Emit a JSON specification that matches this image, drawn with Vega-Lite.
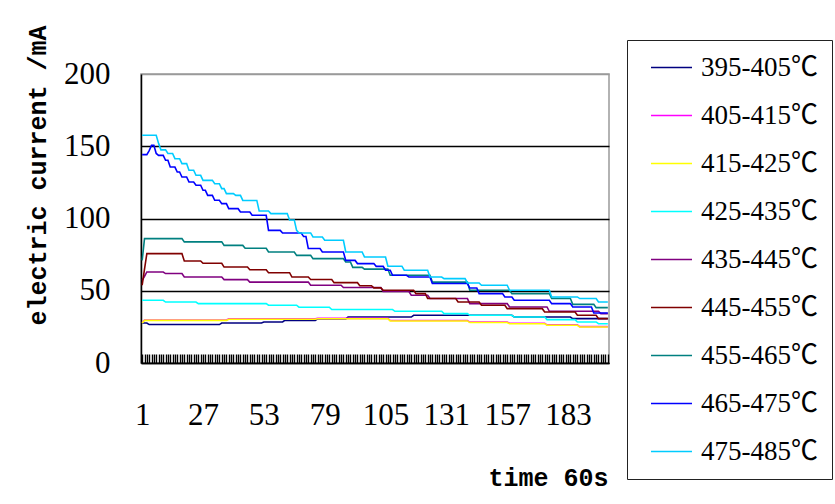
{
"$schema":"https://vega.github.io/schema/vega-lite/v6.json",
"autosize":"none",
"width":468,"height":289,
"padding":{"left":141,"top":74,"right":226,"bottom":141},
"background":"white",
"config":{"view":{"stroke":"#9a9a9a","strokeWidth":1.5}},
"datasets":{
"names":[{"k":"a","name":"395-405℃"},{"k":"b","name":"405-415℃"},{"k":"c","name":"415-425℃"},{"k":"d","name":"425-435℃"},{"k":"e","name":"435-445℃"},{"k":"f","name":"445-455℃"},{"k":"g","name":"455-465℃"},{"k":"h","name":"465-475℃"},{"k":"i","name":"475-485℃"}],
"wide":[
{"t":1,"a":27.7,"b":28,"c":27.7,"d":43.4,"e":57.2,"f":53.8,"g":71,"h":144.2,"i":157.6},
{"t":2,"a":27.7,"b":29.8,"c":29.5,"d":43.4,"e":60,"f":65,"g":86.1,"h":144.2,"i":157.6},
{"t":3,"a":27.7,"b":29.8,"c":29.5,"d":43.4,"e":63,"f":75.7,"g":86.1,"h":144.2,"i":157.6},
{"t":4,"a":26.6,"b":29.8,"c":29.5,"d":43.4,"e":63,"f":75.7,"g":86.1,"h":147,"i":157.6},
{"t":5,"a":26.6,"b":29.8,"c":29.5,"d":43.4,"e":63,"f":75.7,"g":86.1,"h":150.6,"i":157.6},
{"t":6,"a":26.6,"b":29.8,"c":29.5,"d":43.4,"e":63,"f":75.7,"g":86.1,"h":150.6,"i":157.6},
{"t":7,"a":26.6,"b":29.8,"c":29.5,"d":43.4,"e":63,"f":75.7,"g":86.1,"h":145,"i":157.6},
{"t":8,"a":26.6,"b":29.8,"c":29.5,"d":43.4,"e":63,"f":75.7,"g":86.1,"h":143.7,"i":152},
{"t":9,"a":26.6,"b":29.8,"c":29.5,"d":43.4,"e":63,"f":75.7,"g":86.1,"h":143.7,"i":147.5},
{"t":10,"a":26.6,"b":29.8,"c":29.5,"d":43.4,"e":63,"f":75.7,"g":86.1,"h":143.7,"i":147.5},
{"t":11,"a":26.6,"b":29.8,"c":29.5,"d":42.2,"e":61.9,"f":75.7,"g":86.1,"h":140.3,"i":147.5},
{"t":12,"a":26.6,"b":29.8,"c":29.5,"d":42.2,"e":61.9,"f":75.7,"g":86.1,"h":140.3,"i":145},
{"t":13,"a":26.6,"b":29.8,"c":29.5,"d":42.2,"e":61.9,"f":75.7,"g":86.1,"h":135.6,"i":145},
{"t":14,"a":26.6,"b":29.8,"c":29.5,"d":42.2,"e":61.9,"f":75.7,"g":86.1,"h":135.6,"i":145},
{"t":15,"a":26.6,"b":29.8,"c":29.5,"d":42.2,"e":61.9,"f":75.7,"g":86.1,"h":135.6,"i":141.4},
{"t":16,"a":26.6,"b":29.8,"c":29.5,"d":42.2,"e":61.9,"f":75.7,"g":86.1,"h":132.2,"i":141.4},
{"t":17,"a":26.6,"b":29.8,"c":29.5,"d":42.2,"e":61.9,"f":75.7,"g":86.1,"h":132.2,"i":141.4},
{"t":18,"a":26.6,"b":29.8,"c":29.5,"d":42.2,"e":61.9,"f":75.7,"g":86.1,"h":128.7,"i":138},
{"t":19,"a":26.6,"b":29.8,"c":29.5,"d":42.2,"e":59.5,"f":70.6,"g":83.8,"h":128.7,"i":138},
{"t":20,"a":26.6,"b":29.8,"c":29.5,"d":42.2,"e":59.5,"f":70.6,"g":83.8,"h":128.7,"i":138},
{"t":21,"a":26.6,"b":29.8,"c":29.5,"d":42.2,"e":59.5,"f":70.6,"g":83.8,"h":125.3,"i":133.4},
{"t":22,"a":26.6,"b":29.8,"c":29.5,"d":42.2,"e":59.5,"f":70.6,"g":83.8,"h":125.3,"i":133.4},
{"t":23,"a":26.6,"b":29.8,"c":29.5,"d":42.2,"e":59.5,"f":70.6,"g":83.8,"h":125.3,"i":133.4},
{"t":24,"a":26.6,"b":29.8,"c":29.5,"d":42.2,"e":59.5,"f":70.6,"g":83.8,"h":123,"i":129.9},
{"t":25,"a":26.6,"b":29.8,"c":29.5,"d":41.1,"e":59.5,"f":70.6,"g":83.8,"h":123,"i":129.9},
{"t":26,"a":26.6,"b":29.8,"c":29.5,"d":41.1,"e":59.5,"f":70.6,"g":83.8,"h":123,"i":129.9},
{"t":27,"a":26.6,"b":29.8,"c":29.5,"d":41.1,"e":59.5,"f":69,"g":83.8,"h":119.5,"i":126.4},
{"t":28,"a":26.6,"b":29.8,"c":29.5,"d":41.1,"e":59.5,"f":69,"g":83.8,"h":119.5,"i":126.4},
{"t":29,"a":26.6,"b":29.8,"c":29.5,"d":41.1,"e":59.5,"f":69,"g":83.8,"h":116,"i":126.4},
{"t":30,"a":26.6,"b":29.8,"c":29.5,"d":41.1,"e":59.5,"f":69,"g":83.8,"h":116,"i":126.4},
{"t":31,"a":26.6,"b":29.8,"c":29.5,"d":41.1,"e":59.5,"f":69,"g":83.8,"h":116,"i":126.4},
{"t":32,"a":26.6,"b":29.8,"c":29.5,"d":41.1,"e":59.5,"f":69,"g":83.8,"h":112.6,"i":124.1},
{"t":33,"a":26.6,"b":29.8,"c":29.5,"d":41.1,"e":59.5,"f":69,"g":83.8,"h":112.6,"i":124.1},
{"t":34,"a":26.6,"b":29.8,"c":29.5,"d":41.1,"e":59.5,"f":69,"g":83.8,"h":112.6,"i":124.1},
{"t":35,"a":27.7,"b":29.8,"c":29.5,"d":41.1,"e":59.5,"f":69,"g":83.8,"h":110.3,"i":120.7},
{"t":36,"a":27.7,"b":29.8,"c":29.5,"d":41.1,"e":57.7,"f":66.4,"g":81.4,"h":110.3,"i":120.7},
{"t":37,"a":27.7,"b":29.8,"c":29.5,"d":41.1,"e":57.7,"f":66.4,"g":81.4,"h":110.3,"i":117.2},
{"t":38,"a":27.7,"b":30.6,"c":30.3,"d":41.1,"e":57.7,"f":66.4,"g":81.4,"h":106.8,"i":117.2},
{"t":39,"a":27.7,"b":30.6,"c":30.3,"d":41.1,"e":57.7,"f":66.4,"g":81.4,"h":106.8,"i":117.2},
{"t":40,"a":27.7,"b":30.6,"c":30.3,"d":41.1,"e":57.7,"f":66.4,"g":81.4,"h":106.8,"i":117.2},
{"t":41,"a":27.7,"b":30.6,"c":30.3,"d":41.1,"e":57.7,"f":66.4,"g":81.4,"h":106.8,"i":116},
{"t":42,"a":27.7,"b":30.6,"c":30.3,"d":41.1,"e":57.7,"f":66.4,"g":81.4,"h":106.8,"i":116},
{"t":43,"a":27.7,"b":30.6,"c":30.3,"d":41.1,"e":57.7,"f":66.4,"g":81.4,"h":104.5,"i":116},
{"t":44,"a":27.7,"b":30.6,"c":30.3,"d":41.1,"e":57.7,"f":66.4,"g":81.4,"h":104.5,"i":112.5},
{"t":45,"a":27.7,"b":30.6,"c":30.3,"d":41.1,"e":57.7,"f":66.4,"g":79.4,"h":104.5,"i":112.5},
{"t":46,"a":27.7,"b":30.6,"c":30.3,"d":41.1,"e":57.7,"f":66.4,"g":79.4,"h":104.5,"i":112.5},
{"t":47,"a":27.7,"b":30.6,"c":30.3,"d":41.1,"e":56,"f":64.5,"g":79.4,"h":104.5,"i":112.5},
{"t":48,"a":27.7,"b":30.6,"c":30.3,"d":41.1,"e":56,"f":64.5,"g":79.4,"h":102.2,"i":112.5},
{"t":49,"a":27.7,"b":30.6,"c":30.3,"d":41.1,"e":56,"f":64.5,"g":79.4,"h":102.2,"i":112.5},
{"t":50,"a":27.7,"b":30.6,"c":30.3,"d":41.1,"e":56,"f":64.5,"g":79.4,"h":102.2,"i":112.5},
{"t":51,"a":27.7,"b":30.6,"c":30.3,"d":41.1,"e":56,"f":64.5,"g":79.4,"h":102.2,"i":105.2},
{"t":52,"a":27.7,"b":30.6,"c":30.3,"d":41.1,"e":56,"f":64.5,"g":79.4,"h":102.2,"i":105.2},
{"t":53,"a":28.4,"b":30.6,"c":30.3,"d":41.1,"e":56,"f":64.5,"g":79.4,"h":102.2,"i":105.2},
{"t":54,"a":28.4,"b":30.6,"c":30.3,"d":41.1,"e":56,"f":64.5,"g":79.4,"h":102.2,"i":105.2},
{"t":55,"a":28.4,"b":30.6,"c":30.3,"d":40,"e":56,"f":62.5,"g":76.8,"h":91.8,"i":105.2},
{"t":56,"a":28.4,"b":30.6,"c":30.3,"d":40,"e":56,"f":62.5,"g":76.8,"h":91.8,"i":103.4},
{"t":57,"a":28.4,"b":30.6,"c":30.3,"d":40,"e":56,"f":62.5,"g":76.8,"h":91.8,"i":103.4},
{"t":58,"a":28.4,"b":30.6,"c":30.3,"d":40,"e":56,"f":62.5,"g":76.8,"h":91.8,"i":103.4},
{"t":59,"a":28.4,"b":30.6,"c":30.3,"d":40,"e":56,"f":62.5,"g":76.8,"h":91.8,"i":103.4},
{"t":60,"a":28.4,"b":30.6,"c":30.3,"d":40,"e":56,"f":62.5,"g":76.8,"h":91.8,"i":103.4},
{"t":61,"a":28.4,"b":30.6,"c":30.3,"d":40,"e":56,"f":62.5,"g":76.8,"h":90,"i":103.4},
{"t":62,"a":29.5,"b":30.6,"c":30.3,"d":40,"e":56,"f":62.5,"g":76.8,"h":90,"i":103.4},
{"t":63,"a":29.5,"b":30.6,"c":30.3,"d":40,"e":56,"f":62.5,"g":76.8,"h":90,"i":103.4},
{"t":64,"a":29.5,"b":30.6,"c":30.3,"d":40,"e":56,"f":62.5,"g":76.8,"h":90,"i":99},
{"t":65,"a":29.5,"b":30.6,"c":30.3,"d":40,"e":56,"f":59.5,"g":76.8,"h":90,"i":99},
{"t":66,"a":29.5,"b":30.6,"c":30.3,"d":40,"e":56,"f":59.5,"g":76.8,"h":90,"i":99},
{"t":67,"a":29.5,"b":30.6,"c":30.3,"d":40,"e":56,"f":59.5,"g":74.5,"h":90,"i":91.8},
{"t":68,"a":29.5,"b":30.6,"c":30.3,"d":38.6,"e":56,"f":59.5,"g":74.5,"h":90,"i":90},
{"t":69,"a":29.5,"b":30.6,"c":30.3,"d":38.6,"e":56,"f":59.5,"g":74.5,"h":90,"i":90},
{"t":70,"a":29.5,"b":30.6,"c":30.3,"d":38.6,"e":56,"f":59.5,"g":74.5,"h":87.5,"i":90},
{"t":71,"a":29.5,"b":30.6,"c":30.3,"d":38.6,"e":56,"f":59.5,"g":74.5,"h":87.5,"i":90},
{"t":72,"a":29.5,"b":30.6,"c":30.3,"d":38.6,"e":56,"f":59.5,"g":74.5,"h":79.2,"i":90},
{"t":73,"a":29.5,"b":30.6,"c":30.3,"d":38.6,"e":53.8,"f":57.8,"g":74.5,"h":79.2,"i":90},
{"t":74,"a":29.5,"b":30.6,"c":30.3,"d":38.6,"e":53.8,"f":57.8,"g":72.2,"h":79.2,"i":87.2},
{"t":75,"a":29.5,"b":30.6,"c":30.3,"d":38.6,"e":53.8,"f":57.8,"g":72.2,"h":79.2,"i":87.2},
{"t":76,"a":30.5,"b":30.9,"c":30.6,"d":38.6,"e":53.8,"f":57.8,"g":72.2,"h":79.2,"i":87.2},
{"t":77,"a":30.5,"b":30.9,"c":30.6,"d":38.6,"e":53.8,"f":57.8,"g":72.2,"h":79.2,"i":87.2},
{"t":78,"a":30.5,"b":30.9,"c":30.6,"d":38.6,"e":53.8,"f":57.8,"g":72.2,"h":76.8,"i":87.2},
{"t":79,"a":30.5,"b":30.9,"c":30.6,"d":38.6,"e":53.8,"f":57.8,"g":72.2,"h":76.8,"i":84.9},
{"t":80,"a":30.5,"b":30.9,"c":30.6,"d":38.6,"e":53.8,"f":57.8,"g":72.2,"h":76.8,"i":84.9},
{"t":81,"a":30.5,"b":30.9,"c":30.6,"d":38.6,"e":53.8,"f":57.8,"g":72.2,"h":76.8,"i":84.9},
{"t":82,"a":30.5,"b":30.9,"c":30.6,"d":37,"e":53.8,"f":57.8,"g":72.2,"h":76.8,"i":84.9},
{"t":83,"a":30.5,"b":30.9,"c":30.6,"d":37,"e":53.8,"f":55.6,"g":72.2,"h":76.8,"i":84.9},
{"t":84,"a":30.5,"b":30.9,"c":30.6,"d":37,"e":53.8,"f":55.6,"g":72.2,"h":76.8,"i":84.9},
{"t":85,"a":30.5,"b":30.9,"c":30.6,"d":37,"e":53.8,"f":55.6,"g":72.2,"h":76.8,"i":84.9},
{"t":86,"a":30.5,"b":30.9,"c":30.6,"d":37,"e":53.8,"f":55.6,"g":72.2,"h":76.8,"i":84.9},
{"t":87,"a":30.5,"b":30.9,"c":30.6,"d":37,"e":52.2,"f":55.6,"g":72.2,"h":76.8,"i":84.9},
{"t":88,"a":30.5,"b":30.9,"c":30.6,"d":37,"e":52.2,"f":55.6,"g":69.9,"h":71,"i":76.8},
{"t":89,"a":31.8,"b":30.9,"c":30.6,"d":37,"e":52.2,"f":55.6,"g":69.9,"h":71,"i":76.8},
{"t":90,"a":31.8,"b":30.9,"c":30.6,"d":37,"e":52.2,"f":55.6,"g":69.9,"h":71,"i":76.8},
{"t":91,"a":31.8,"b":30.9,"c":30.6,"d":37,"e":52.2,"f":55.6,"g":66.2,"h":71,"i":76.8},
{"t":92,"a":31.8,"b":30.9,"c":30.6,"d":37,"e":52.2,"f":55.6,"g":66.2,"h":71,"i":76.8},
{"t":93,"a":31.8,"b":30.9,"c":30.6,"d":37,"e":52.2,"f":55.6,"g":66.2,"h":68.8,"i":76.8},
{"t":94,"a":31.8,"b":30.9,"c":30.6,"d":37,"e":52.2,"f":53.5,"g":66.2,"h":68.8,"i":76.8},
{"t":95,"a":31.8,"b":30.9,"c":30.6,"d":37,"e":52.2,"f":53.5,"g":66.2,"h":68.8,"i":76.8},
{"t":96,"a":31.8,"b":30.9,"c":30.6,"d":37,"e":52.2,"f":53.5,"g":65,"h":68.8,"i":73.4},
{"t":97,"a":31.8,"b":30.9,"c":30.6,"d":37,"e":52.2,"f":53.5,"g":65,"h":68.8,"i":73.4},
{"t":98,"a":31.8,"b":30.9,"c":30.6,"d":37,"e":52.2,"f":53.5,"g":65,"h":68.8,"i":73.4},
{"t":99,"a":31.8,"b":30.9,"c":30.6,"d":37,"e":52.2,"f":53.5,"g":65,"h":68.8,"i":73.4},
{"t":100,"a":31.8,"b":30.9,"c":30.6,"d":37,"e":52.2,"f":52,"g":65,"h":68.8,"i":73.4},
{"t":101,"a":31.8,"b":30.9,"c":30.6,"d":37,"e":52.2,"f":52,"g":65,"h":66.9,"i":73.4},
{"t":102,"a":31.8,"b":30.9,"c":30.6,"d":37,"e":52.2,"f":52,"g":65,"h":66.9,"i":73.4},
{"t":103,"a":31.8,"b":30.9,"c":30.6,"d":37,"e":52.2,"f":52,"g":65,"h":66.9,"i":73.4},
{"t":104,"a":31.8,"b":30.9,"c":30.6,"d":37,"e":49.5,"f":50.3,"g":65,"h":66.9,"i":73.4},
{"t":105,"a":31.8,"b":30.9,"c":30.6,"d":37,"e":49.5,"f":50.3,"g":65,"h":64.2,"i":73.4},
{"t":106,"a":31.8,"b":30.9,"c":30.6,"d":37,"e":49.5,"f":50.3,"g":65,"h":64.2,"i":67},
{"t":107,"a":31.8,"b":29.4,"c":29.1,"d":37,"e":49.5,"f":50.3,"g":60.7,"h":64.2,"i":67},
{"t":108,"a":31.8,"b":29.4,"c":29.1,"d":37,"e":49.5,"f":50.3,"g":60.7,"h":60.7,"i":67},
{"t":109,"a":31.8,"b":29.4,"c":29.1,"d":35.8,"e":49.5,"f":50.3,"g":60.7,"h":60.7,"i":67},
{"t":110,"a":31.8,"b":29.4,"c":29.1,"d":35.8,"e":49.5,"f":50.3,"g":60.7,"h":60.7,"i":67},
{"t":111,"a":31.8,"b":29.4,"c":29.1,"d":35.8,"e":49.5,"f":50.3,"g":60.7,"h":60.7,"i":67},
{"t":112,"a":31.8,"b":29.4,"c":29.1,"d":35.8,"e":49.5,"f":50.3,"g":60.7,"h":60.7,"i":67},
{"t":113,"a":31.8,"b":29.4,"c":29.1,"d":35.8,"e":49.5,"f":50.3,"g":60.7,"h":60.7,"i":64.2},
{"t":114,"a":31.8,"b":29.4,"c":29.1,"d":35.8,"e":49.5,"f":50.3,"g":60.7,"h":60.7,"i":64.2},
{"t":115,"a":31.8,"b":29.4,"c":29.1,"d":35.8,"e":49.5,"f":50.3,"g":60.7,"h":59.5,"i":64.2},
{"t":116,"a":31.8,"b":29.4,"c":29.1,"d":35.8,"e":46.9,"f":50.3,"g":60.7,"h":59.5,"i":64.2},
{"t":117,"a":33,"b":29.4,"c":29.1,"d":35.8,"e":46.9,"f":50.3,"g":60.7,"h":59.5,"i":64.2},
{"t":118,"a":33,"b":29.4,"c":29.1,"d":35.8,"e":46.9,"f":48,"g":60.7,"h":59.5,"i":64.2},
{"t":119,"a":33,"b":29.4,"c":29.1,"d":35.8,"e":46.9,"f":48,"g":60.7,"h":59.5,"i":64.2},
{"t":120,"a":33,"b":29.4,"c":29.1,"d":35.8,"e":46.9,"f":48,"g":60.7,"h":59.5,"i":64.2},
{"t":121,"a":33,"b":29.4,"c":29.1,"d":35.8,"e":46.9,"f":48,"g":60.7,"h":59.5,"i":64.2},
{"t":122,"a":33,"b":29.4,"c":29.1,"d":35.8,"e":46.9,"f":48,"g":60.7,"h":59.5,"i":64.2},
{"t":123,"a":33,"b":29.4,"c":29.1,"d":35.8,"e":46.9,"f":44.6,"g":60.7,"h":59.5,"i":64.2},
{"t":124,"a":33,"b":29.4,"c":29.1,"d":35.8,"e":44.6,"f":44.6,"g":60.7,"h":59.5,"i":59.5},
{"t":125,"a":33,"b":29.4,"c":29.1,"d":35.8,"e":44.6,"f":44.6,"g":56,"h":55,"i":59.5},
{"t":126,"a":33,"b":29.4,"c":29.1,"d":35.8,"e":44.6,"f":44.6,"g":56,"h":55,"i":59.5},
{"t":127,"a":33,"b":29.4,"c":29.1,"d":35.8,"e":44.6,"f":44.6,"g":56,"h":55,"i":59.5},
{"t":128,"a":33,"b":29.4,"c":29.1,"d":35.8,"e":44.6,"f":44.6,"g":56,"h":55,"i":59.5},
{"t":129,"a":33,"b":29.4,"c":29.1,"d":35.8,"e":44.6,"f":44.6,"g":56,"h":55,"i":59.5},
{"t":130,"a":33,"b":29.4,"c":29.1,"d":34.2,"e":44.6,"f":44.6,"g":56,"h":55,"i":58.4},
{"t":131,"a":33,"b":29.4,"c":29.1,"d":34.2,"e":44.6,"f":44.6,"g":56,"h":55,"i":58.4},
{"t":132,"a":33,"b":29.4,"c":29.1,"d":34.2,"e":44.6,"f":44.6,"g":56,"h":55,"i":58.4},
{"t":133,"a":33,"b":29.4,"c":29.1,"d":34.2,"e":44.6,"f":44.6,"g":56,"h":55,"i":58.4},
{"t":134,"a":33,"b":29.4,"c":29.1,"d":34.2,"e":44.6,"f":44.6,"g":56,"h":55,"i":58.4},
{"t":135,"a":33,"b":29.4,"c":29.1,"d":34.2,"e":44.6,"f":44.6,"g":56,"h":55,"i":58.4},
{"t":136,"a":33,"b":29.4,"c":29.1,"d":34.2,"e":44.6,"f":42.2,"g":56,"h":55,"i":58.4},
{"t":137,"a":33,"b":29.4,"c":29.1,"d":34.2,"e":44.6,"f":42.2,"g":56,"h":55,"i":58.4},
{"t":138,"a":33,"b":29.4,"c":29.1,"d":34.2,"e":44.6,"f":42.2,"g":56,"h":55,"i":58.4},
{"t":139,"a":33,"b":29.4,"c":29.1,"d":34.2,"e":44.6,"f":42.2,"g":56,"h":55,"i":58.4},
{"t":140,"a":33,"b":29.4,"c":29.1,"d":34.2,"e":44.6,"f":42.2,"g":56,"h":55,"i":55.4},
{"t":141,"a":33,"b":28.3,"c":28,"d":33,"e":41.1,"f":42.2,"g":50.3,"h":51.9,"i":55.4},
{"t":142,"a":33,"b":28.3,"c":28,"d":33,"e":41.1,"f":42.2,"g":50.3,"h":51.9,"i":55.4},
{"t":143,"a":33,"b":28.3,"c":28,"d":33,"e":41.1,"f":42.2,"g":50.3,"h":51.9,"i":55.4},
{"t":144,"a":33,"b":28.3,"c":28,"d":33,"e":41.1,"f":42.2,"g":50.3,"h":51.9,"i":55.4},
{"t":145,"a":33,"b":28.3,"c":28,"d":33,"e":41.1,"f":42.2,"g":50.3,"h":48,"i":55.4},
{"t":146,"a":33,"b":28.3,"c":28,"d":33,"e":41.1,"f":40,"g":50.3,"h":48,"i":53.8},
{"t":147,"a":33,"b":28.3,"c":28,"d":33,"e":41.1,"f":40,"g":50.3,"h":48,"i":53.8},
{"t":148,"a":33,"b":28.3,"c":28,"d":33,"e":41.1,"f":40,"g":50.3,"h":48,"i":53.8},
{"t":149,"a":33,"b":28.3,"c":28,"d":33,"e":41.1,"f":40,"g":50.3,"h":48,"i":53.8},
{"t":150,"a":33,"b":28.3,"c":28,"d":33,"e":41.1,"f":40,"g":50.3,"h":48,"i":53.8},
{"t":151,"a":33,"b":28.3,"c":28,"d":33,"e":41.1,"f":40,"g":50.3,"h":48,"i":53.8},
{"t":152,"a":33,"b":28.3,"c":28,"d":33,"e":41.1,"f":40,"g":50.3,"h":48,"i":53.8},
{"t":153,"a":33,"b":28.3,"c":28,"d":33,"e":41.1,"f":40,"g":50.3,"h":48,"i":53.8},
{"t":154,"a":33,"b":28.3,"c":28,"d":33,"e":41.1,"f":40,"g":50.3,"h":48,"i":53.8},
{"t":155,"a":33,"b":28.3,"c":28,"d":33,"e":41.1,"f":40,"g":50.3,"h":48,"i":53.8},
{"t":156,"a":33,"b":28.3,"c":28,"d":33,"e":41.1,"f":40,"g":50.3,"h":45.7,"i":53.8},
{"t":157,"a":33,"b":28.3,"c":28,"d":33,"e":41.1,"f":37.6,"g":50.3,"h":45.7,"i":53.8},
{"t":158,"a":33,"b":27.5,"c":27.2,"d":33,"e":38.8,"f":37.6,"g":50.3,"h":45.7,"i":50.3},
{"t":159,"a":33,"b":27.5,"c":27.2,"d":33,"e":38.8,"f":37.6,"g":48,"h":45.7,"i":50.3},
{"t":160,"a":31.8,"b":27.5,"c":27.2,"d":31.8,"e":38.8,"f":37.6,"g":48,"h":43.4,"i":50.3},
{"t":161,"a":31.8,"b":27.5,"c":27.2,"d":31.8,"e":38.8,"f":37.6,"g":48,"h":43.4,"i":50.3},
{"t":162,"a":31.8,"b":27.5,"c":27.2,"d":31.8,"e":38.8,"f":37.6,"g":48,"h":43.4,"i":50.3},
{"t":163,"a":31.8,"b":27.5,"c":27.2,"d":31.8,"e":38.8,"f":37.6,"g":48,"h":43.4,"i":50.3},
{"t":164,"a":31.8,"b":27.5,"c":27.2,"d":31.8,"e":38.8,"f":37.6,"g":48,"h":43.4,"i":50.3},
{"t":165,"a":31.8,"b":27.5,"c":27.2,"d":31.8,"e":38.8,"f":37.6,"g":48,"h":43.4,"i":50.3},
{"t":166,"a":31.8,"b":27.5,"c":27.2,"d":31.8,"e":38.8,"f":37.6,"g":48,"h":43.4,"i":50.3},
{"t":167,"a":31.8,"b":27.5,"c":27.2,"d":31.8,"e":38.8,"f":37.6,"g":48,"h":43.4,"i":50.3},
{"t":168,"a":31.8,"b":27.5,"c":27.2,"d":31.8,"e":38.8,"f":37.6,"g":48,"h":43.4,"i":50.3},
{"t":169,"a":31.8,"b":27.5,"c":27.2,"d":31.8,"e":38.8,"f":37.6,"g":48,"h":43.4,"i":50.3},
{"t":170,"a":31.8,"b":27.5,"c":27.2,"d":31.8,"e":38.8,"f":37.6,"g":48,"h":43.4,"i":50.3},
{"t":171,"a":31.8,"b":27.5,"c":27.2,"d":31.8,"e":38.8,"f":37.6,"g":48,"h":43.4,"i":50.3},
{"t":172,"a":31.8,"b":27.5,"c":27.2,"d":31.8,"e":38.8,"f":37.6,"g":48,"h":43.4,"i":50.3},
{"t":173,"a":31.8,"b":27.5,"c":27.2,"d":31.8,"e":38.8,"f":35.3,"g":48,"h":43.4,"i":50.3},
{"t":174,"a":31.8,"b":26.4,"c":26.1,"d":30,"e":38.8,"f":35.3,"g":48,"h":43.4,"i":50.3},
{"t":175,"a":31.8,"b":26.4,"c":26.1,"d":30,"e":35.8,"f":35.3,"g":48,"h":43.4,"i":50.3},
{"t":176,"a":31.8,"b":26.4,"c":26.1,"d":30,"e":35.8,"f":35.3,"g":44.6,"h":41.1,"i":45.7},
{"t":177,"a":31.8,"b":26.4,"c":26.1,"d":30,"e":35.8,"f":35.3,"g":44.6,"h":41.1,"i":45.7},
{"t":178,"a":31.8,"b":26.4,"c":26.1,"d":30,"e":35.8,"f":35.3,"g":44.6,"h":41.1,"i":45.7},
{"t":179,"a":31.8,"b":26.4,"c":26.1,"d":30,"e":35.8,"f":35.3,"g":44.6,"h":41.1,"i":45.7},
{"t":180,"a":31.8,"b":26.4,"c":26.1,"d":30,"e":35.8,"f":35.3,"g":44.6,"h":41.1,"i":45.7},
{"t":181,"a":31.8,"b":26.4,"c":26.1,"d":30,"e":35.8,"f":35.3,"g":44.6,"h":41.1,"i":45.7},
{"t":182,"a":31.8,"b":26.4,"c":26.1,"d":30,"e":35.8,"f":35.3,"g":44.6,"h":41.1,"i":45.7},
{"t":183,"a":31.8,"b":26.4,"c":26.1,"d":30,"e":35.8,"f":35.3,"g":44.6,"h":41.1,"i":45.7},
{"t":184,"a":31.8,"b":26.4,"c":26.1,"d":30,"e":35.8,"f":35.3,"g":44.6,"h":41.1,"i":45.7},
{"t":185,"a":30.7,"b":26.4,"c":26.1,"d":30,"e":35.8,"f":35.3,"g":40.6,"h":38.8,"i":45.7},
{"t":186,"a":30.7,"b":26.4,"c":26.1,"d":30,"e":35.8,"f":35.3,"g":40.6,"h":38.8,"i":45.7},
{"t":187,"a":30.7,"b":26.4,"c":26.1,"d":28.4,"e":35.8,"f":33,"g":40.6,"h":38.8,"i":45.7},
{"t":188,"a":30.7,"b":25.2,"c":24.9,"d":28.4,"e":35.8,"f":33,"g":40.6,"h":38.8,"i":44.6},
{"t":189,"a":30.7,"b":25.2,"c":24.9,"d":28.4,"e":35.8,"f":33,"g":40.6,"h":38.8,"i":44.6},
{"t":190,"a":30.7,"b":25.2,"c":24.9,"d":28.4,"e":35.8,"f":33,"g":40.6,"h":38.8,"i":44.6},
{"t":191,"a":30.7,"b":25.2,"c":24.9,"d":28.4,"e":35.8,"f":33,"g":40.6,"h":38.8,"i":44.6},
{"t":192,"a":30.7,"b":25.2,"c":24.9,"d":28.4,"e":35.8,"f":33,"g":40.6,"h":38.8,"i":44.6},
{"t":193,"a":30.7,"b":25.2,"c":24.9,"d":28.4,"e":35.8,"f":33,"g":40.6,"h":38.8,"i":44.6},
{"t":194,"a":30.7,"b":25.2,"c":24.9,"d":28.4,"e":35.8,"f":33,"g":40.6,"h":34.6,"i":44.6},
{"t":195,"a":30.7,"b":25.2,"c":24.9,"d":28.4,"e":35.8,"f":33,"g":38.3,"h":34.6,"i":44.6},
{"t":196,"a":30.7,"b":25.2,"c":24.9,"d":27.2,"e":35.8,"f":30.7,"g":38.3,"h":34.6,"i":42.2},
{"t":197,"a":30.7,"b":25.2,"c":24.9,"d":27.2,"e":34.2,"f":30.7,"g":38.3,"h":34.6,"i":42.2},
{"t":198,"a":30.7,"b":25.2,"c":24.9,"d":27.2,"e":34.2,"f":30.7,"g":38.3,"h":34.6,"i":42.2},
{"t":199,"a":30.7,"b":25.2,"c":24.9,"d":27.2,"e":34.2,"f":30.7,"g":38.3,"h":34.6,"i":42.2},
{"t":200,"a":30.7,"b":25.2,"c":24.9,"d":27.2,"e":34.2,"f":30.7,"g":38.3,"h":34.6,"i":42.2}
]},
"data":{"name":"wide"},
"transform":[
{"fold":["a","b","c","d","e","f","g","h","i"],"as":["k","v"]},
{"lookup":"k","from":{"data":{"name":"names"},"key":"k","fields":["name"]}}
],
"mark":{"type":"line","strokeWidth":1.6,"clip":true},
"encoding":{
"x":{"field":"t","type":"quantitative","scale":{"domain":[0.5,200.5],"nice":false,"zero":false},
"axis":{"title":"time 60s","titleFont":"Liberation Mono","titleFontWeight":"bold","titleFontSize":25,"titleColor":"black","titleAlign":"right","titleX":467,"titleY":114,"titleBaseline":"middle",
"tickCount":200,"tickSize":-9,"tickColor":"black","tickWidth":1.4,"tickRound":true,"domainColor":"black","domainWidth":1.5,"grid":false,
"labelExpr":"(datum.value - 1) % 26 === 0 ? datum.value : ''","labelOverlap":false,"labelFont":"Liberation Serif","labelFontSize":31,"labelColor":"black","labelBaseline":"middle","labelPadding":61}},
"y":{"field":"v","type":"quantitative","scale":{"domain":[0,200],"nice":false},
"axis":{"title":"electric current /mA","titleFont":"Liberation Mono","titleFontWeight":"bold","titleFontSize":25,"titleColor":"black","titleAngle":-90,"titleX":-104,"titleY":101,"titleAlign":"center","titleBaseline":"middle",
"values":[0,50,100,150,200],"ticks":false,"domainColor":"black","domainWidth":1.5,
"grid":true,"gridColor":{"condition":{"test":"datum.value === 200","value":"#9a9a9a"},"value":"black"},"gridWidth":1.5,
"labelFont":"Liberation Serif","labelFontSize":31,"labelColor":"black","labelPadding":31}},
"color":{"field":"name","type":"nominal",
"scale":{"domain":["395-405℃","405-415℃","415-425℃","425-435℃","435-445℃","445-455℃","455-465℃","465-475℃","475-485℃"],
"range":["#000080","#FF00FF","#FFFF00","#00FFFF","#800080","#800000","#008080","#0000FF","#00CCFF"]},
"legend":{"title":null,"orient":"none","legendX":486,"legendY":-34,"strokeColor":"#222222","padding":14,
"symbolType":"stroke","symbolSize":1681,"symbolStrokeWidth":1.5,"symbolOffset":9,"clipHeight":27,"rowPadding":20,
"labelFont":"Liberation Serif, Noto Sans CJK SC","labelFontSize":27,"labelColor":"black","labelOffset":8,"labelLimit":300}}
}
}
